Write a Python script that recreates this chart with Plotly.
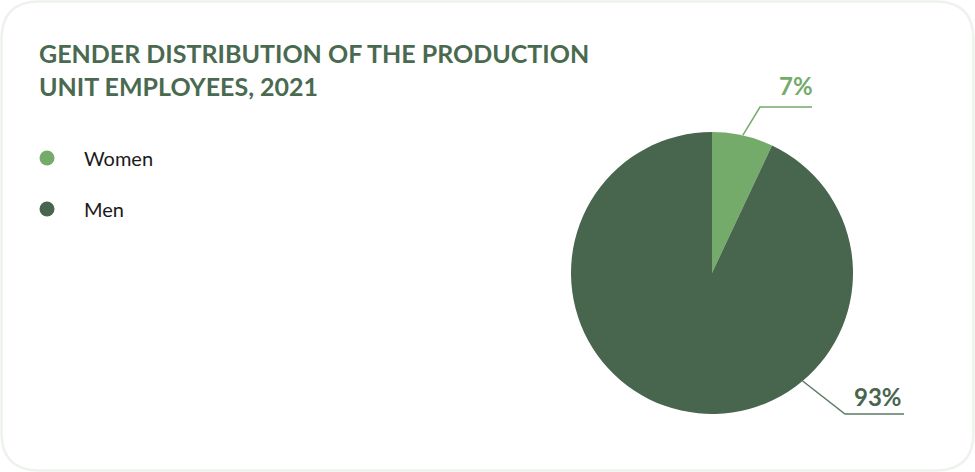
import math
import plotly.graph_objects as go

# Data
categories = ["Women", "Men"]
shares = [7, 93]
colors = ["#74ab6b", "#48654e"]
title_text = "GENDER DISTRIBUTION OF THE PRODUCTION<br>UNIT EMPLOYEES, 2021"

W, H = 975, 472


def px(x):
    return x / W


def py(y):
    return 1 - y / H


# Pie geometry (pixels)
CX, CY, R = 712, 273, 141

fig = go.Figure()
fig.add_trace(go.Pie(
    labels=categories,
    values=shares,
    marker=dict(colors=colors, line=dict(width=0)),
    sort=False,
    direction="clockwise",
    rotation=0,
    textinfo="none",
    hoverinfo="label+percent",
    showlegend=False,
    domain=dict(x=[px(CX - R), px(CX + R)], y=[py(CY + R), py(CY - R)]),
))

shapes = []
annotations = []

# Rounded card outline
rad = 38
x0, y0, x1, y1 = 1.5, 1.5, W - 1.5, H - 1.5
path = (f"M {px(x0 + rad)},{py(y0)} L {px(x1 - rad)},{py(y0)} "
        f"Q {px(x1)},{py(y0)} {px(x1)},{py(y0 + rad)} "
        f"L {px(x1)},{py(y1 - rad)} Q {px(x1)},{py(y1)} {px(x1 - rad)},{py(y1)} "
        f"L {px(x0 + rad)},{py(y1)} Q {px(x0)},{py(y1)} {px(x0)},{py(y1 - rad)} "
        f"L {px(x0)},{py(y0 + rad)} Q {px(x0)},{py(y0)} {px(x0 + rad)},{py(y0)} Z")
shapes.append(dict(type="path", xref="paper", yref="paper", path=path,
                   line=dict(color="#edf3ec", width=2.5), layer="below"))

# Title
annotations.append(dict(
    text=f"<b>{title_text}</b>", x=px(37), y=py(36), xref="paper", yref="paper",
    xanchor="left", yanchor="top", align="left", showarrow=False,
    font=dict(family="Lato", size=25, color="#4a6a50"),
))

# Legend (circles + labels)
legend_y = [158, 209]
for cat, col, ly in zip(categories, colors, legend_y):
    d = 7.5
    shapes.append(dict(type="circle", xref="paper", yref="paper",
                       x0=px(47 - d), x1=px(47 + d), y0=py(ly + d), y1=py(ly - d),
                       fillcolor=col, line=dict(width=0)))
    annotations.append(dict(
        text=cat, x=px(82), y=py(ly), xref="paper", yref="paper",
        xanchor="left", yanchor="middle", showarrow=False,
        font=dict(family="Lato", size=20, color="#1a1a1a"),
    ))

# Leader lines with percentage labels
total = sum(shares)
cum = 0
mid_angles = []
for v in shares:
    mid_angles.append((cum + v / 2) / total * 360)
    cum += v

leader_specs = [
    # (anchor angle, elbow, end, label center, line color)
    (mid_angles[0], (760, 107), (812, 107), (796, 86), "#74ab6b"),
    (140, (845, 414), (904, 414), (878, 396), "#5e7a63"),
]
for (ang, elbow, end, lab, lcol), v, col in zip(leader_specs, shares, colors):
    a = math.radians(ang)
    sx, sy = CX + R * math.sin(a), CY - R * math.cos(a)
    lp = (f"M {px(sx)},{py(sy)} L {px(elbow[0])},{py(elbow[1])} "
          f"L {px(end[0])},{py(end[1])}")
    shapes.append(dict(type="path", xref="paper", yref="paper", path=lp,
                       line=dict(color=lcol, width=1.5)))
    annotations.append(dict(
        text=f"<b>{v}%</b>", x=px(lab[0]), y=py(lab[1]), xref="paper", yref="paper",
        xanchor="center", yanchor="middle", showarrow=False,
        font=dict(family="Lato", size=24, color=col),
    ))

fig.update_layout(
    width=W, height=H,
    margin=dict(l=0, r=0, t=0, b=0),
    paper_bgcolor="white", plot_bgcolor="white",
    shapes=shapes, annotations=annotations,
    showlegend=False,
)

fig.write_html("out.html")
